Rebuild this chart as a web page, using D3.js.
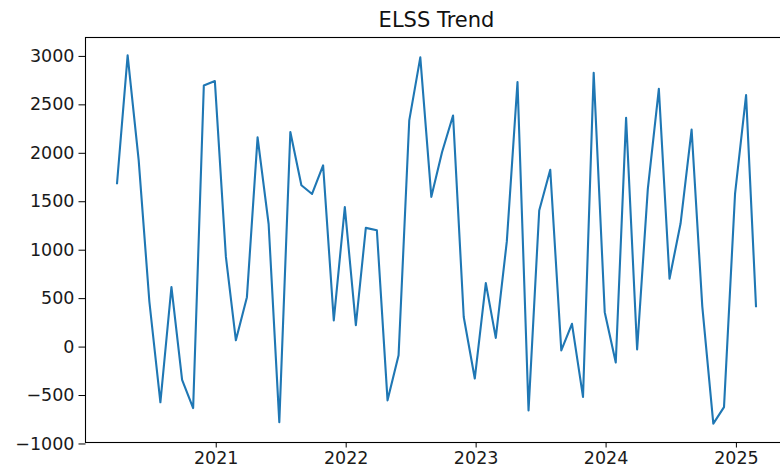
<!DOCTYPE html>
<html>
<head>
<meta charset="utf-8">
<script src="https://cdn.jsdelivr.net/npm/d3@7"></script>
<style>
  body { margin: 0; background: #fff; }
  #chart { width: 780px; height: 468px; overflow: hidden; }
  .tick text { font-family: "DejaVu Sans", sans-serif; font-size: 17.5px; fill: #1a1a1a; }
  .tick line { stroke: #000; }
</style>
</head>
<body>
<div id="chart"></div>
<script>
// monthly ELSS flow, one value per month-end
const months = [
  '2020-03', '2020-04', '2020-05', '2020-06', '2020-07', '2020-08', '2020-09', '2020-10', '2020-11', '2020-12',
  '2021-01', '2021-02', '2021-03', '2021-04', '2021-05', '2021-06', '2021-07', '2021-08', '2021-09', '2021-10', '2021-11', '2021-12',
  '2022-01', '2022-02', '2022-03', '2022-04', '2022-05', '2022-06', '2022-07', '2022-08', '2022-09', '2022-10', '2022-11', '2022-12',
  '2023-01', '2023-02', '2023-03', '2023-04', '2023-05', '2023-06', '2023-07', '2023-08', '2023-09', '2023-10', '2023-11', '2023-12',
  '2024-01', '2024-02', '2024-03', '2024-04', '2024-05', '2024-06', '2024-07', '2024-08', '2024-09', '2024-10', '2024-11', '2024-12',
  '2025-01', '2025-02',
];
const values = [
  1670, 3000, 1920, 460, -580, 610, -350, -640, 2690, 2735,
  920, 60, 505, 2155, 1260, -785, 2210, 1660, 1570, 1865, 265, 1435,
  215, 1220, 1195, -560, -95, 2330, 2980, 1540, 2000, 2380, 300, -335,
  650, 85, 1080, 2725, -665, 1400, 1820, -45, 230, -525, 2820, 350,
  -170, 2355, -35, 1620, 2655, 695, 1265, 2235, 410, -800, -630, 1570,
  2590, 400,
];
const xTickLabels = ['2021', '2022', '2023', '2024', '2025'];
const yTickValues = [-1000, -500, 0, 500, 1000, 1500, 2000, 2500, 3000];
const title = 'ELSS Trend';

class TrendLine {
  constructor(containerId) {
    this.containerId = containerId;
    this.init();
    this.render();
  }

  init() {
    const vis = this;
    vis.chartContainer = d3.select(`#${vis.containerId}`);

    // axes box is wider than the picture, right spine falls off the edge
    vis.margin = { top: 37, right: -8, bottom: 26, left: 85 };
    vis.width = 780 - vis.margin.left - vis.margin.right;
    vis.height = 468 - vis.margin.top - vis.margin.bottom;

    vis.root = vis.chartContainer.append('svg')
      .attr('width', 780)
      .attr('height', 468);

    vis.svg = vis.root.append('g')
      .attr('transform', `translate(${vis.margin.left},${vis.margin.top})`);

    const toMonthEnd = (s) => d3.utcDay.offset(d3.utcMonth.offset(d3.utcParse('%Y-%m')(s), 1), -1);
    vis.data = months.map((m, i) => ({ date: toMonthEnd(m), value: values[i] }));

    // matplotlib style 5% margins on both axes
    const [x0, x1] = d3.extent(vis.data, (d) => +d.date);
    const xPad = (x1 - x0) * 0.05;
    const [y0, y1] = d3.extent(vis.data, (d) => d.value);
    const yPad = (y1 - y0) * 0.05;

    vis.xScale = d3.scaleUtc()
      .domain([new Date(x0 - xPad), new Date(x1 + xPad)])
      .range([0, vis.width]);

    vis.yScale = d3.scaleLinear()
      .domain([y0 - yPad, y1 + yPad])
      .range([vis.height, 0]);
  }

  render() {
    const vis = this;

    const line = d3.line()
      .x((d) => vis.xScale(d.date))
      .y((d) => vis.yScale(d.value));

    vis.svg.append('path')
      .datum(vis.data)
      .attr('fill', 'none')
      .attr('stroke', '#1f77b4')
      .attr('stroke-width', 2.1)
      .attr('stroke-linejoin', 'round')
      .attr('d', line);

    vis.renderAxes();

    // spines
    vis.svg.append('rect')
      .attr('x', 0.5)
      .attr('y', 0.5)
      .attr('width', vis.width)
      .attr('height', vis.height)
      .attr('fill', 'none')
      .attr('stroke', '#000')
      .attr('stroke-width', 1.1);

    vis.root.append('text')
      .attr('x', vis.margin.left + vis.width / 2)
      .attr('y', 27)
      .attr('text-anchor', 'middle')
      .style('font-family', '"DejaVu Sans", sans-serif')
      .style('font-size', '21px')
      .style('fill', '#111')
      .text(title);
  }

  renderAxes() {
    const vis = this;

    const xTicks = xTickLabels.map((y) => d3.utcParse('%Y')(y));
    vis.xAxis = d3.axisBottom(vis.xScale)
      .tickValues(xTicks)
      .tickSize(5)
      .tickPadding(4)
      .tickFormat(d3.utcFormat('%Y'));

    vis.yAxis = d3.axisLeft(vis.yScale)
      .tickValues(yTickValues)
      .tickSize(7)
      .tickPadding(4)
      .tickFormat(d3.format('d'));

    vis.svg.append('g')
      .attr('class', 'x-axis')
      .attr('transform', `translate(0.5, ${vis.height + 0.5})`)
      .call(vis.xAxis)
      .call((g) => g.select('.domain').remove());

    vis.svg.append('g')
      .attr('class', 'y-axis')
      .attr('transform', 'translate(0.5, 0.5)')
      .call(vis.yAxis)
      .call((g) => g.select('.domain').remove());
  }
}

new TrendLine('chart');
</script>
</body>
</html>
